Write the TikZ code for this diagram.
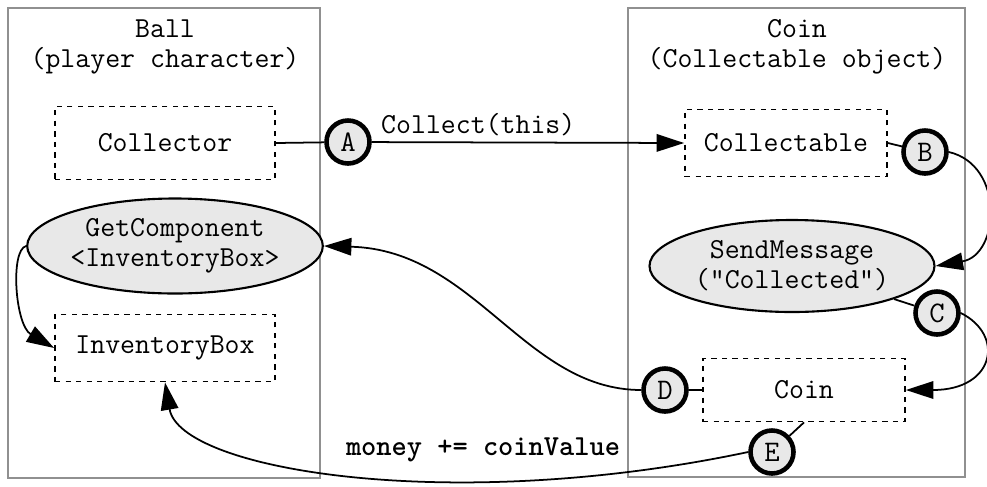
\documentclass[tikz,border=0pt]{standalone}
\usepackage{fontspec}
\usetikzlibrary{arrows.meta,shapes.geometric}
\definecolor{panelline}{HTML}{909090}
\definecolor{callfill}{HTML}{E8E8E8}
\tikzset{
  every node/.style={font=\ttfamily\fontsize{16.5}{17}\selectfont},
  panel/.style={draw=panelline, line width=0.9pt},
  comp/.style={draw, dashed, line width=1pt, inner sep=0pt},
  call/.style={ellipse, draw, fill=callfill, line width=1.2pt, align=center, inner sep=0pt},
  stepmark/.style={circle, draw, fill=callfill, line width=2.6pt, minimum size=8.6mm,
                   inner sep=0pt, font=\ttfamily\fontsize{17}{17}\selectfont},
  flow/.style={line width=1pt},
  flowarrow/.style={flow, -{Triangle[length=5.5mm,width=3.5mm]}},
}
\begin{document}
\begin{tikzpicture}
    \useasboundingbox (0,0) rectangle (19.74,-9.72);
    % the two objects
    \draw[panel] (0.16,-0.16) rectangle (6.40,-9.56);
    \draw[panel] (12.56,-0.16) rectangle (19.30,-9.54);
    \node[align=center] (balltitle) at (3.30,-0.94) {Ball\\(player character)};
    \node[align=center] (cointitle) at (15.94,-0.94) {Coin\\(Collectable object)};
    % components and calls
    \node[comp, minimum width=4.4cm, minimum height=1.46cm] (collector) at (3.30,-2.86) {Collector};
    \node[comp, minimum width=4.04cm, minimum height=1.34cm] (collectable) at (15.72,-2.86) {Collectable};
    \node[call, minimum width=5.0cm, minimum height=1.9cm] (getcomp) at (3.50,-4.92) {GetComponent\\<InventoryBox>};
    \node[comp, minimum width=4.4cm, minimum height=1.34cm] (invbox) at (3.30,-6.96) {InventoryBox};
    \node[call, minimum width=5.7cm, minimum height=1.84cm] (sendmsg) at (15.84,-5.32) {SendMessage\\("Collected")};
    \node[comp, minimum width=4.04cm, minimum height=1.26cm] (coin) at (16.08,-7.80) {Coin};
    % step markers
    \node[stepmark] (sA) at (6.96,-2.84) {A};
    \node[stepmark] (sB) at (18.50,-3.04) {B};
    \node[stepmark] (sC) at (18.74,-6.26) {C};
    \node[stepmark] (sD) at (13.30,-7.80) {D};
    \node[stepmark] (sE) at (15.44,-9.04) {E};
    \node[anchor=west] (collectlbl) at (7.50,-2.50) {Collect(this)};
    \node (moneylbl) at (9.66,-9.00) {\bfseries money += coinValue};
    % connectors
    \draw[flow] (collector.east) -- (sA);
    \draw[flowarrow] (sA) -- (collectable.west);
    \draw[flow] (collectable.east) -- (sB);
    \draw[flowarrow] (sB.east) .. controls (20.1,-3.3) and (20.0,-5.1) .. (sendmsg.east);
    \draw[flow] (sendmsg) -- (sC);
    \draw[flowarrow] (sC.east) .. controls (20.1,-6.7) and (19.9,-7.8) .. (coin.east);
    \draw[flow] (coin.west) -- (sD);
    \draw[flowarrow] (sD.west) .. controls (10.5,-7.8) and (9.5,-5.0) .. (getcomp.east);
    \draw[flow] (coin.south) -- (sE);
    \draw[flowarrow] (sE.west) .. controls (9.0,-10.3) and (3.6,-9.4) .. (invbox.south);
    \draw[flowarrow] (getcomp.west) .. controls (0.2,-5.0) and (0.3,-6.5) .. (invbox.west);
\end{tikzpicture}
\end{document}
